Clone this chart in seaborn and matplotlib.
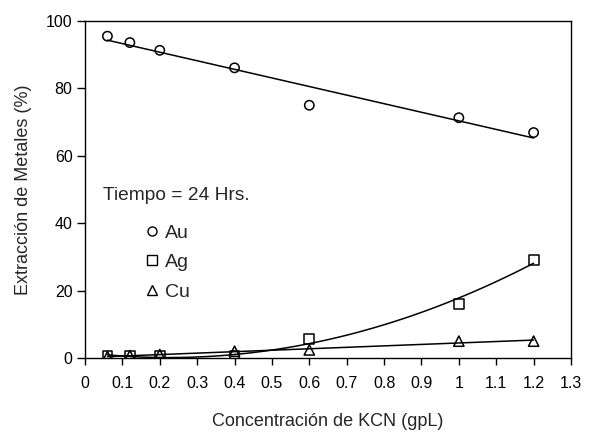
import numpy as np
import pandas as pd
import matplotlib
matplotlib.use("Agg")
import matplotlib.pyplot as plt
import seaborn as sns
from matplotlib.lines import Line2D

kcn = [0.06, 0.12, 0.2, 0.4, 0.6, 1.0, 1.2]
au = [95.5, 93.6, 91.3, 86.1, 75.0, 71.3, 66.9]
ag = [0.5, 0.6, 0.5, 0.5, 5.6, 16.0, 29.1]
cu = [0.4, 0.7, 1.0, 2.0, 2.4, 5.0, 5.0]
xticks = [0, 0.1, 0.2, 0.3, 0.4, 0.5, 0.6, 0.7, 0.8, 0.9, 1.0, 1.1, 1.2, 1.3]
xticklabels = ["0", "0.1", "0.2", "0.3", "0.4", "0.5", "0.6", "0.7", "0.8", "0.9", "1", "1.1", "1.2", "1.3"]
yticks = [0, 20, 40, 60, 80, 100]

sns.set_style("ticks")
plt.rcParams['font.family'] = ['Liberation Sans', 'DejaVu Sans']

fig = plt.figure(figsize=(5.91, 4.34), dpi=100)
ax = fig.add_axes([85/591, 1-358/434, (571-85)/591, (358-21)/434])

df = pd.DataFrame({"x": kcn, "Au": au, "Ag": ag, "Cu": cu})
orders = {"Au": 1, "Ag": 2, "Cu": 1}
markers = {"Au": "o", "Ag": "s", "Cu": "^"}
sizes = {"Au": 45, "Ag": 50, "Cu": 55}
for m in ["Au", "Ag", "Cu"]:
    sns.regplot(data=df, x="x", y=m, order=orders[m], ci=None, scatter=False,
                truncate=True, ax=ax, line_kws=dict(color="black", lw=1.1))
    sns.scatterplot(data=df, x="x", y=m, marker=markers[m], s=sizes[m],
                    facecolor="none", edgecolor="black", linewidth=1.1, ax=ax, zorder=5)

ax.set_xlim(0, 1.3)
ax.set_ylim(0, 100)
ax.set_xticks(xticks)
ax.set_xticklabels(xticklabels)
ax.set_yticks(yticks)
ax.tick_params(axis="x", direction="out", length=5, width=1, pad=8, labelsize=11.5, colors="black")
ax.tick_params(axis="y", direction="out", length=6, width=1, pad=3, labelsize=11.5, colors="black")
for s in ax.spines.values():
    s.set_visible(True)
    s.set_color("black")
    s.set_linewidth(1)
ax.set_xlabel("Concentración de KCN (gpL)", fontsize=13, labelpad=16)
ax.set_ylabel("Extracción de Metales (%)", fontsize=13, labelpad=10)

ax.text((103-85)/486, (358-195)/337, "Tiempo = 24 Hrs.", transform=ax.transAxes,
        fontsize=13.8, va="center", ha="left")
handles = [Line2D([], [], ls="none", marker=markers[m], markersize=6.5,
                  markerfacecolor="none", markeredgecolor="black", markeredgewidth=1)
           for m in ["Au", "Ag", "Cu"]]
ax.legend(handles, ["Au", "Ag", "Cu"], loc="upper left",
          bbox_to_anchor=((145-85)/486, (358-224)/337), frameon=False,
          fontsize=14, handlelength=0.7, handletextpad=0.35, labelspacing=0.62,
          borderpad=0, borderaxespad=0)

fig.savefig("out.png", dpi=100)
